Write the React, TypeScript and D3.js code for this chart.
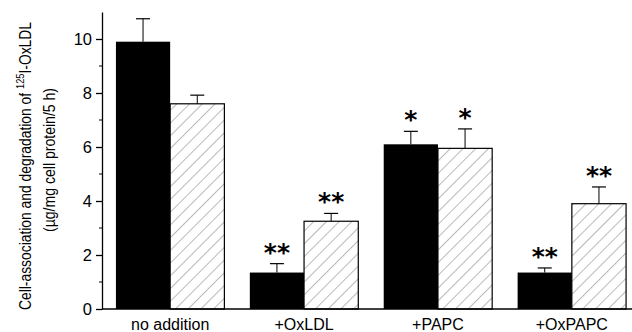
import { useEffect, useRef } from "react";
import * as d3 from "d3";

// treatments on the x axis
const groups = ["no addition", "+OxLDL", "+PAPC", "+OxPAPC"];
// black bars
const solidValues = [9.9, 1.35, 6.1, 1.35];
const solidErrors = [0.85, 0.33, 0.48, 0.17];
const solidStars = ["", "**", "*", "**"];
// hatched bars
const hatchedValues = [7.6, 3.25, 5.95, 3.9];
const hatchedErrors = [0.32, 0.29, 0.72, 0.62];
const hatchedStars = ["", "**", "*", "**"];

const yTicks = [0, 2, 4, 6, 8, 10];
const yMinorTicks = [1, 3, 5, 7, 9];

export default function App() {
    const ref = useRef<SVGSVGElement>(null);

    useEffect(() => {
        const width = 632,
            height = 332;
        const svg = d3.select(ref.current);
        svg.selectAll("*").remove();
        svg.attr("width", width).attr("height", height);

        const x = d3.scaleBand<string>()
            .domain(groups)
            .range([102, 640])
            .paddingInner(0.19)
            .paddingOuter(0.104);
        const y = d3.scaleLinear().domain([0, 11]).range([309, 12]);
        const bw = x.bandwidth() / 2;

        // hatch pattern
        svg.append("defs")
            .append("pattern")
            .attr("id", "hatch")
            .attr("patternUnits", "userSpaceOnUse")
            .attr("width", 9)
            .attr("height", 9)
            .attr("patternTransform", "rotate(45)")
            .append("line")
            .attr("x1", 0).attr("y1", 0)
            .attr("x2", 0).attr("y2", 9)
            .attr("stroke", "#666")
            .attr("stroke-width", 0.9);

        const series = [
            { values: solidValues, errors: solidErrors, stars: solidStars, off: 0, hatched: false },
            { values: hatchedValues, errors: hatchedErrors, stars: hatchedStars, off: 1, hatched: true },
        ];

        series.forEach(function (s) {
            const g = svg.append("g");
            groups.forEach(function (name, i) {
                const x0 = (x(name) as number) + s.off * bw;
                const cx = x0 + bw / 2;
                const top = y(s.values[i]);
                const errTop = y(s.values[i] + s.errors[i]);
                // error bar
                g.append("line")
                    .attr("x1", cx).attr("x2", cx)
                    .attr("y1", top).attr("y2", errTop)
                    .attr("stroke", "#000").attr("stroke-width", 1);
                g.append("line")
                    .attr("x1", cx - 7).attr("x2", cx + 7)
                    .attr("y1", errTop).attr("y2", errTop)
                    .attr("stroke", "#000").attr("stroke-width", 1.2);
                g.append("rect")
                    .attr("x", x0)
                    .attr("y", top)
                    .attr("width", bw)
                    .attr("height", y(0) - top)
                    .attr("fill", s.hatched ? "url(#hatch)" : "#000")
                    .attr("stroke", "#000")
                    .attr("stroke-width", s.hatched ? 1.2 : 0);
                if (s.stars[i]) {
                    g.append("text")
                        .attr("x", cx)
                        .attr("y", errTop - 3)
                        .attr("text-anchor", "middle")
                        .style("font-family", "'DejaVu Sans', sans-serif")
                        .style("font-weight", "bold")
                        .style("font-size", "25px")
                        .text(s.stars[i]);
                }
            });
        });

        // y axis
        const yAxis = svg.append("g")
            .attr("transform", "translate(102,0)")
            .call(d3.axisLeft(y).tickValues(yTicks).tickSize(6).tickSizeOuter(0).tickPadding(4).tickFormat(d3.format("d")));
        yAxis.select(".domain").attr("stroke", "#000").attr("stroke-width", 1.3);
        yAxis.selectAll(".tick line").attr("stroke-width", 1.3);
        yAxis.selectAll("text")
            .attr("fill", "#000")
            .style("font-family", "'Liberation Sans', Arial, sans-serif")
            .style("font-size", "16.5px");
        svg.append("g")
            .attr("transform", "translate(102,0)")
            .selectAll("line")
            .data(yMinorTicks)
            .enter()
            .append("line")
            .attr("x1", -3).attr("x2", 0)
            .attr("y1", function (d) { return y(d); })
            .attr("y2", function (d) { return y(d); })
            .attr("stroke", "#000");

        // x baseline + labels
        svg.append("line")
            .attr("x1", 102).attr("x2", 632)
            .attr("y1", y(0)).attr("y2", y(0))
            .attr("stroke", "#000").attr("stroke-width", 1.3);
        svg.selectAll(".xlab")
            .data(groups)
            .enter()
            .append("text")
            .attr("class", "xlab")
            .attr("x", function (d) { return (x(d) as number) + x.bandwidth() / 2; })
            .attr("y", 330)
            .attr("text-anchor", "middle")
            .style("font-family", "'Liberation Sans', Arial, sans-serif")
            .style("font-size", "16px")
            .text(function (d) { return d; });

        // y title
        const t1 = svg.append("text")
            .attr("transform", "translate(31,166) rotate(-90)")
            .attr("text-anchor", "middle")
            .attr("textLength", 288)
            .attr("lengthAdjust", "spacingAndGlyphs")
            .style("font-family", "'Liberation Sans', Arial, sans-serif")
            .style("font-size", "16.5px");
        t1.append("tspan").text("Cell-association and degradation of ");
        t1.append("tspan").attr("dy", -7).style("font-size", "11px").text("125");
        t1.append("tspan").attr("dy", 7).text("I-OxLDL");
        svg.append("text")
            .attr("transform", "translate(55,160) rotate(-90)")
            .attr("text-anchor", "middle")
            .attr("textLength", 144)
            .attr("lengthAdjust", "spacingAndGlyphs")
            .style("font-family", "'Liberation Sans', Arial, sans-serif")
            .style("font-size", "16px")
            .text("(\u00b5g/mg cell protein/5 h)");
    }, []);

    return (
        <svg ref={ref} style={{ position: "absolute", left: 0, top: 0 }}></svg>
    );
}
